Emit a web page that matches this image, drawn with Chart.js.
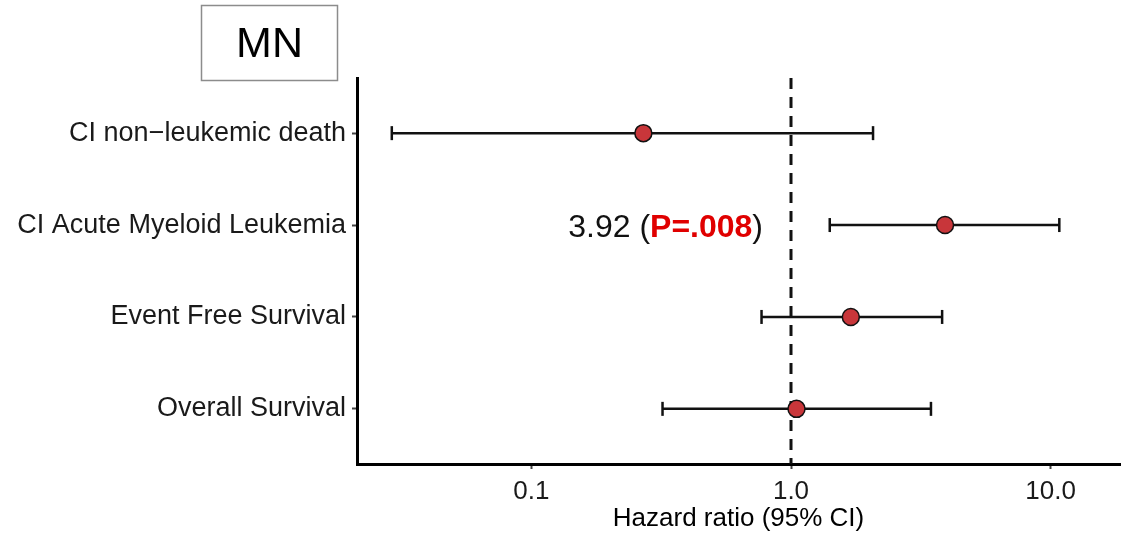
<!DOCTYPE html>
<html><head><meta charset="utf-8">
<script src="https://cdn.jsdelivr.net/npm/chart.js@4"></script>
<style>html,body{margin:0;padding:0;background:#fff}</style>
</head><body>
<canvas id="c" width="1138" height="534"></canvas>
<script>
const categories = ["CI non\u2212leukemic death", "CI Acute Myeloid Leukemia", "Event Free Survival", "Overall Survival"];
const hazardRatio = [0.27, 3.92, 1.70, 1.05];
const ciLower = [0.029, 1.41, 0.77, 0.32];
const ciUpper = [2.07, 10.8, 3.82, 3.46];
const xTickValues = [0.1, 1, 10];
const xTickLabels = ["0.1", "1.0", "10.0"];
const panelLabel = "MN";
const annotValue = "3.92";
const annotP = "P=.008";
const annotRow = 1;
const refValue = 1;

const FONT = "'Liberation Sans', Arial, sans-serif";
const yMin = -0.6, yMax = 3.6;

const datasets = [];
datasets.push({
  type: 'scatter', order: 0,
  data: hazardRatio.map((v, i) => ({x: v, y: i})),
  pointRadius: 8.5, pointBackgroundColor: '#c8363a', pointBorderColor: '#111', pointBorderWidth: 1.5
});
categories.forEach((c, i) => {
  datasets.push({
    type: 'line', order: 2,
    data: [{x: ciLower[i], y: i}, {x: ciUpper[i], y: i}],
    borderColor: '#111', borderWidth: 2.5,
    pointStyle: 'line', pointRotation: 90, pointRadius: 7,
    pointBorderColor: '#111', pointBorderWidth: 2.5, pointBackgroundColor: '#111'
  });
});
datasets.push({
  type: 'line', order: 3,
  data: [{x: refValue, y: yMin}, {x: refValue, y: yMax}],
  borderColor: '#111', borderWidth: 3, borderDash: [11, 8], pointRadius: 0
});

const overlay = {
  id: 'overlay',
  afterDraw(chart) {
    const ctx = chart.ctx;
    const xs = chart.scales.x, ys = chart.scales.y;
    ctx.save();
    ctx.strokeStyle = '#8c8c8c'; ctx.lineWidth = 1.5;
    ctx.strokeRect(201.5, 5.5, 136, 75);
    ctx.fillStyle = '#000';
    ctx.font = '43px ' + FONT;
    ctx.textAlign = 'center'; ctx.textBaseline = 'middle';
    ctx.fillText(panelLabel, 269.5, 45);
    const yPix = ys.getPixelForValue(annotRow);
    const right = xs.getPixelForValue(refValue) - 28;
    ctx.textBaseline = 'middle'; ctx.textAlign = 'left';
    const fNorm = '32px ' + FONT, fBold = 'bold 32px ' + FONT;
    const p1 = annotValue + ' (', p3 = ')';
    ctx.font = fNorm; const w1 = ctx.measureText(p1).width, w3 = ctx.measureText(p3).width;
    ctx.font = fBold; const w2 = ctx.measureText(annotP).width;
    let x = right - (w1 + w2 + w3);
    ctx.font = fNorm; ctx.fillStyle = '#111'; ctx.fillText(p1, x, yPix + 3); x += w1;
    ctx.font = fBold; ctx.fillStyle = '#e00000'; ctx.fillText(annotP, x, yPix + 3); x += w2;
    ctx.font = fNorm; ctx.fillStyle = '#111'; ctx.fillText(p3, x, yPix + 3);
    ctx.restore();
  }
};

new Chart(document.getElementById('c'), {
  data: {datasets},
  options: {
    responsive: false, animation: false,
    layout: {padding: {top: 78, right: 18, left: 0, bottom: 0}},
    plugins: {legend: {display: false}, tooltip: {enabled: false}},
    scales: {
      x: {
        type: 'logarithmic', min: 0.0213, max: 18.5,
        afterBuildTicks: s => { s.ticks = xTickValues.map(v => ({value: v})); },
        afterFit: s => { s.height = 70; },
        ticks: {
          callback: (v) => xTickLabels[xTickValues.indexOf(v)],
          font: {family: FONT, size: 26}, color: '#1a1a1a', padding: 7, maxRotation: 0, autoSkip: false
        },
        grid: {drawOnChartArea: false, drawTicks: true, tickLength: 5, color: '#444', tickWidth: 2},
        border: {display: true, color: '#000', width: 3},
        title: {display: true, text: 'Hazard ratio (95% CI)', font: {family: FONT, size: 26}, color: '#000', padding: {top: 5, bottom: 0}}
      },
      y: {
        type: 'linear', min: yMin, max: yMax, reverse: true,
        afterBuildTicks: s => { s.ticks = categories.map((c, i) => ({value: i})); },
        afterFit: s => { s.width = 357; },
        ticks: {
          callback: (v) => categories[v],
          font: {family: FONT, size: 27}, color: '#1a1a1a', padding: 6, autoSkip: false
        },
        grid: {drawOnChartArea: false, drawTicks: true, tickLength: 5, color: '#444', tickWidth: 2},
        border: {display: true, color: '#000', width: 3}
      }
    }
  },
  plugins: [overlay]
});
</script>
</body></html>
